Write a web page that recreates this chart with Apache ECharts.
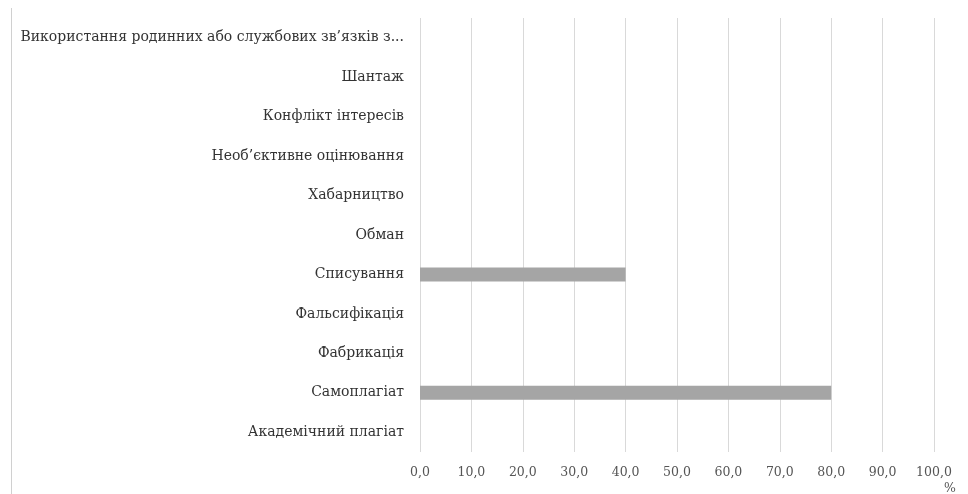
<!DOCTYPE html>
<html><head><meta charset="utf-8">
<script src="https://cdn.jsdelivr.net/npm/echarts@6/dist/echarts.min.js"></script>
<style>html,body{margin:0;padding:0;background:#fff}#c{width:968px;height:494px}</style>
</head><body><div id="c"></div>
<script>
const categories = ['Академічний плагіат','Самоплагіат','Фабрикація','Фальсифікація','Списування','Обман','Хабарництво','Необ’єктивне оцінювання','Конфлікт інтересів','Шантаж','Використання родинних або службових зв’язків з...'];
const values = [0, 80, 0, 0, 40, 0, 0, 0, 0, 0, 0];
const xTicks = [0, 10, 20, 30, 40, 50, 60, 70, 80, 90, 100];
const unitLabel = '%';

const chart = echarts.init(document.getElementById('c'));
const font = '"DejaVu Serif", "Liberation Serif", serif';
chart.setOption({
  animation: false,
  grid: {left: 420, right: 34, top: 18, bottom: 42, containLabel: false},
  xAxis: {
    type: 'value', min: xTicks[0], max: xTicks[xTicks.length-1], interval: 10,
    axisLine: {show: false}, axisTick: {show: false},
    splitLine: {lineStyle: {color: '#d9d9d9', width: 1}},
    axisLabel: {color: '#555', fontFamily: font, fontSize: 12.5, margin: 14,
      formatter: v => v.toFixed(1).replace('.', ',')}
  },
  yAxis: {
    type: 'category', data: categories,
    axisLine: {show: false}, axisTick: {show: false},
    axisLabel: {color: '#333', fontFamily: font, fontSize: 14, margin: 16}
  },
  series: [{
    type: 'bar', data: values, barWidth: 14,
    itemStyle: {color: '#a5a5a5'}
  }],
  graphic: [
    {type: 'line', shape: {x1: 11.5, y1: 8, x2: 11.5, y2: 494}, style: {stroke: '#d0d0d0', lineWidth: 1}},
    {type: 'text', left: 944, top: 482, style: {text: unitLabel, fill: '#555', font: '12.5px ' + font}}
  ]
});
</script></body></html>
